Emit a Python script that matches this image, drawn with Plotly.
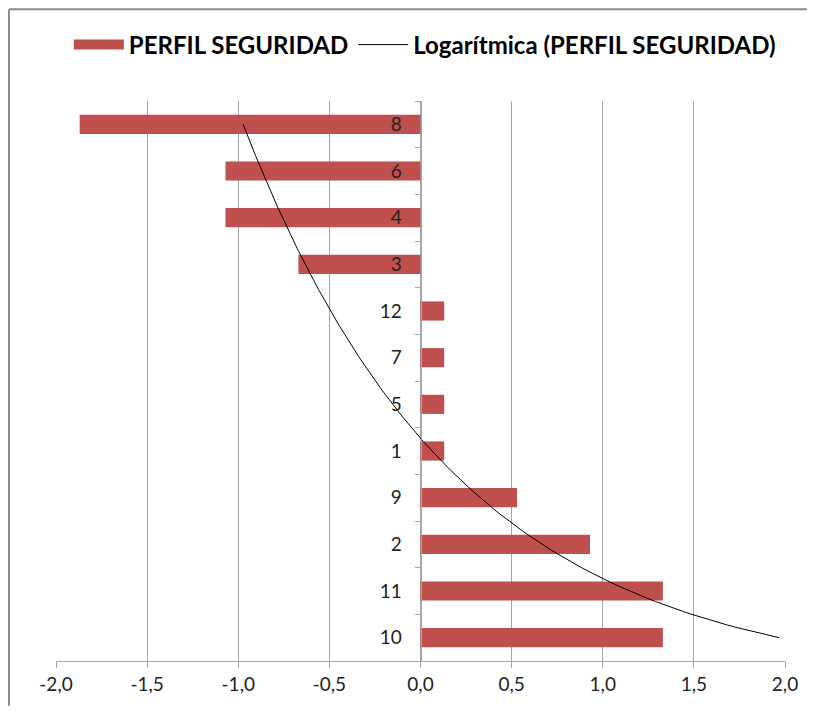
import numpy as np
import plotly.graph_objects as go

# categories listed bottom to top, as Excel draws a bar chart
categories = ["10", "11", "2", "9", "1", "5", "7", "12", "3", "4", "6", "8"]
perfil = [1.33, 1.33, 0.93, 0.53, 0.13, 0.13, 0.13, 0.13, -0.67, -1.07, -1.07, -1.87]
x_ticks = [-2.0, -1.5, -1.0, -0.5, 0.0, 0.5, 1.0, 1.5, 2.0]

pos = np.arange(1, len(categories) + 1)

# logarithmic trendline (Excel style: y = a*ln(x) + b over the category index)
a, b = np.polyfit(np.log(pos), perfil, 1)
t = np.linspace(1, len(categories), 200)
trend = a * np.log(t) + b

BAR = "#C0504D"
FONT = "Lato, 'Open Sans', sans-serif"
FRAME = "#8c8c8c"

fig = go.Figure()
fig.add_trace(go.Bar(
    x=perfil, y=pos, orientation="h",
    marker=dict(color=BAR, line=dict(width=0)),
    width=0.41, showlegend=False, hoverinfo="x+y",
))
# legend stand-in for the bar series (wide red swatch)
fig.add_trace(go.Scatter(
    x=[None], y=[None], mode="lines", name="PERFIL SEGURIDAD",
    line=dict(color=BAR, width=14),
))
fig.add_trace(go.Scatter(
    x=trend, y=t, mode="lines", name="Logarítmica (PERFIL SEGURIDAD)",
    line=dict(color="black", width=1), hoverinfo="skip",
))

fig.update_layout(
    width=803, height=700,
    margin=dict(l=48, r=26, t=93, b=47),
    plot_bgcolor="white", paper_bgcolor="white",
    separators=",.",
    font=dict(family=FONT, size=19, color="#222"),
    legend=dict(
        orientation="h", x=0.506, y=1.1, xanchor="center", yanchor="middle",
        font=dict(size=24, color="black", family=FONT, weight="bold"),
        itemwidth=50, traceorder="normal",
    ),
    # chart frame: top and left edges only
    shapes=[
        dict(type="line", xref="paper", yref="paper",
             x0=-0.0645, x1=1.03, y0=1.164, y1=1.164,
             line=dict(color=FRAME, width=2), layer="below"),
        dict(type="line", xref="paper", yref="paper",
             x0=-0.0645, x1=-0.0645, y0=-0.08, y1=1.164,
             line=dict(color=FRAME, width=2), layer="below"),
    ],
)
fig.update_xaxes(
    range=[-2, 2], tickmode="array", tickvals=x_ticks,
    ticktext=[f"{v:.1f}".replace(".", ",") for v in x_ticks],
    showgrid=True, gridcolor="#a6a6a6", gridwidth=1,
    zeroline=False, showline=True, linecolor="#a6a6a6", linewidth=1,
    ticks="outside", ticklen=6, tickcolor="#a6a6a6",
)
fig.update_yaxes(
    range=[0.5, len(categories) + 0.5],
    tickmode="array", tickvals=pos, ticktext=categories,
    anchor="free", position=0.5, side="left",
    showgrid=False, zeroline=False,
    showline=True, linecolor="#a6a6a6", linewidth=1,
    ticks="", ticklabelstandoff=15,
    minor=dict(tickvals=np.arange(0.5, len(categories) + 1, 1.0),
               ticks="outside", ticklen=6, tickcolor="#a6a6a6", showgrid=False),
)

fig.write_html("out.html")
